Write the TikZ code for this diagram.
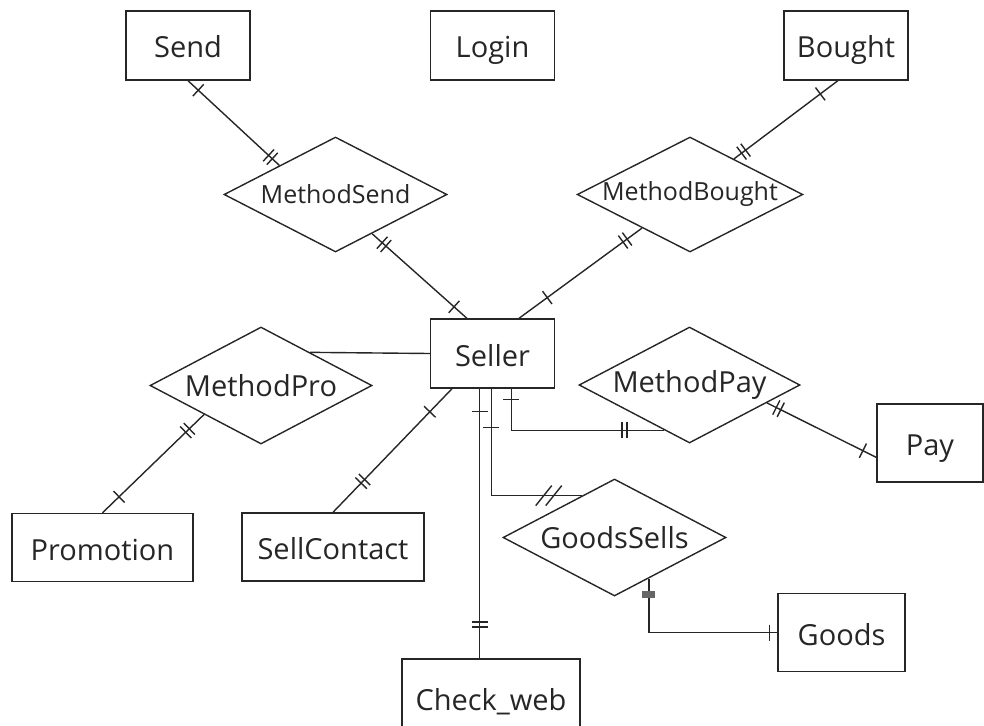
\documentclass[tikz,border=0pt]{standalone}
\usepackage{fontspec}
\setmainfont{Open Sans}
\usetikzlibrary{shapes.geometric,decorations.markings}

\tikzset{
	entity/.style={draw, rectangle, inner sep=0pt, text height=25pt, text depth=0pt, minimum width=124pt, minimum height=69pt},
	relation/.style={draw, diamond, aspect=2, inner sep=0pt, minimum width=223pt, minimum height=115pt},
	onebar/.style={postaction={decorate, decoration={markings, mark=at position #1 with {\draw (0,-8) -- (0,8);}}}},
	twobar/.style={postaction={decorate, decoration={markings, mark=at position #1 with {\draw (-2.5,-8) -- (-2.5,8) (2.5,-8) -- (2.5,8);}}}},
	twoslash/.style={postaction={decorate, decoration={markings, mark=at position #1 with {\draw (-13,10) -- (3,-10) (-3,10) -- (13,-10);}}}},
	blockbar/.style={postaction={decorate, decoration={markings, mark=at position #1 with {\fill[black!60] (-3.5,-6.5) rectangle (3.5,6.5);}}}},
}

\begin{document}
\begin{tikzpicture}[x=1pt, y=-1pt, line width=1.4pt, color=black!85,
	every node/.style={font=\fontsize{29}{34}\selectfont}]
		\useasboundingbox (0,0) rectangle (984,725);
		
		%Entities
		\node[entity] (Send) at (188,45.5) {Send};
		\node[entity] (Login) at (492.5,45.5) {Login};
		\node[entity] (Bought) at (846,45.5) {Bought};
		\node[entity] (Seller) at (492.5,353.5) {Seller};
		\node[entity, minimum width=181pt, minimum height=68pt] (Promotion) at (102.5,547.5) {Promotion};
		\node[entity, minimum width=182pt, minimum height=68pt] (SellContact) at (333,547) {SellContact};
		\node[entity, minimum width=106pt, minimum height=78pt] (Pay) at (930,443) {Pay};
		\node[entity, minimum width=127pt, minimum height=78pt] (Goods) at (841.5,632.5) {Goods};
		\node[entity, minimum width=178pt, minimum height=78pt] (CheckWeb) at (491,698) {Check\_web};
		
		%Relations
		\node[relation, font=\fontsize{25}{30}\selectfont] (MethodSend) at (335.5,194.5) {MethodSend};
		\node[relation, font=\fontsize{25}{30}\selectfont, minimum width=224pt] (MethodBought) at (690,194.5) {MethodBought};
		\node[relation, minimum width=222pt, minimum height=117pt] (MethodPro) at (261,385.5) {MethodPro};
		\node[relation, minimum width=221pt, minimum height=116pt] (MethodPay) at (689.5,385) {MethodPay};
		\node[relation, minimum height=117pt] (GoodsSells) at (614.5,537.5) {GoodsSells};
		
		%Links with the cardinality bars
		\draw[onebar=14pt, twobar=-12pt] (Send.south) -- (MethodSend.north west);
		\draw[twobar=16pt, onebar=-17pt] (MethodSend.-47) -- (Seller.126.5);
		\draw[onebar=22pt, twobar=-12pt] (Bought.-103) -- (MethodBought.39);
		\draw[twobar=21pt, onebar=-35pt] (MethodBought.215) -- (Seller.53.5);
		\draw (MethodPro.34) -- (Seller.west);
		\draw[twobar=23pt, onebar=-23pt] (MethodPro.207) -- (Promotion.north);
		\draw[onebar=32pt, twobar=-43pt] (Seller.221) -- (SellContact.north);
		\draw[onebar=11pt, twobar=-40pt] (Seller.-62) |- (MethodPay.241);
		\draw[twobar=13pt, onebar=-15pt] (MethodPay.-13) -- (Pay.195);
		\draw[onebar=39pt, twoslash=-33pt] (Seller.-92) |- (GoodsSells.128);
		\draw[onebar=23pt, twobar=-34pt] (Seller.250) -- (Seller.250 |- CheckWeb.north);
		\draw[blockbar=16pt, onebar=-8pt] (GoodsSells.-50) |- (Goods.west);
		
	\end{tikzpicture}
\end{document}
